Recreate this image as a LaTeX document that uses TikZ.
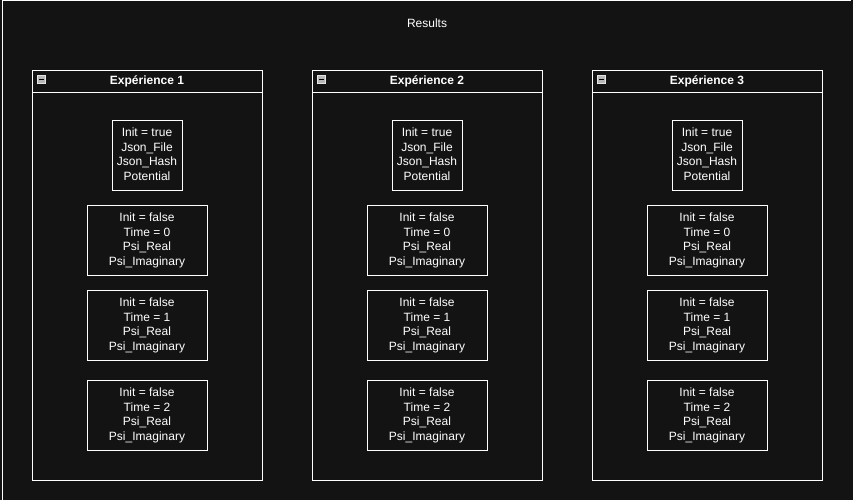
\documentclass[tikz,border=0pt]{standalone}
\usepackage{fontspec}
\setmainfont{Liberation Sans}
\definecolor{bgc}{HTML}{131313}
\definecolor{icong}{HTML}{B8B8B8}
\tikzset{
  entry/.style={draw=white, line width=1pt, text=white, align=center, inner sep=0pt,
    minimum height=70pt, font=\fontsize{12}{14.5}\selectfont},
  cont/.style={draw=white, line width=1pt},
  conttitle/.style={text=white, font=\bfseries\fontsize{12}{14}\selectfont, inner sep=0pt},
}
\begin{document}
\begin{tikzpicture}[x=1pt,y=-1pt]
\fill[bgc] (0,0) rectangle (853,500);
\useasboundingbox (0,0) rectangle (853,500);
\draw[white, line width=1pt] (2.5,500) -- (2.5,1) -- (851,1);
\node[text=white, font=\fontsize{12}{14}\selectfont, inner sep=0pt] (title) at (427,23.5) {Results};
\foreach \i/\x in {1/32, 2/312, 3/592} {
  \draw[cont] (\x,70.5) rectangle ({\x+230},480.5);
  \draw[cont] (\x,93) -- ({\x+230},93);
  \node[conttitle] (h\i) at ({\x+115},81.5) {Expérience \i};
  \fill[icong, draw=white!80!gray, line width=0.5pt] ({\x+5},75.5) rectangle ({\x+13},83.5);
  \fill[black] ({\x+6.5},79) rectangle ({\x+11.5},80.5);
  \node[entry, draw=none, minimum width=70pt] (e\i a) at ({\x+115},154) {Init = true\\Json\_File\\Json\_Hash\\Potential};
  \draw[white, line width=1pt] ({\x+80},120.5) rectangle ({\x+150},190.5);
  \node[entry, minimum width=120pt] (e\i b) at ({\x+115},240.5) {Init = false\\Time = 0\\Psi\_Real\\Psi\_Imaginary};
  \node[entry, minimum width=120pt] (e\i c) at ({\x+115},325.5) {Init = false\\Time = 1\\Psi\_Real\\Psi\_Imaginary};
  \node[entry, minimum width=120pt] (e\i d) at ({\x+115},415.5) {Init = false\\Time = 2\\Psi\_Real\\Psi\_Imaginary};
}
\end{tikzpicture}
\end{document}
